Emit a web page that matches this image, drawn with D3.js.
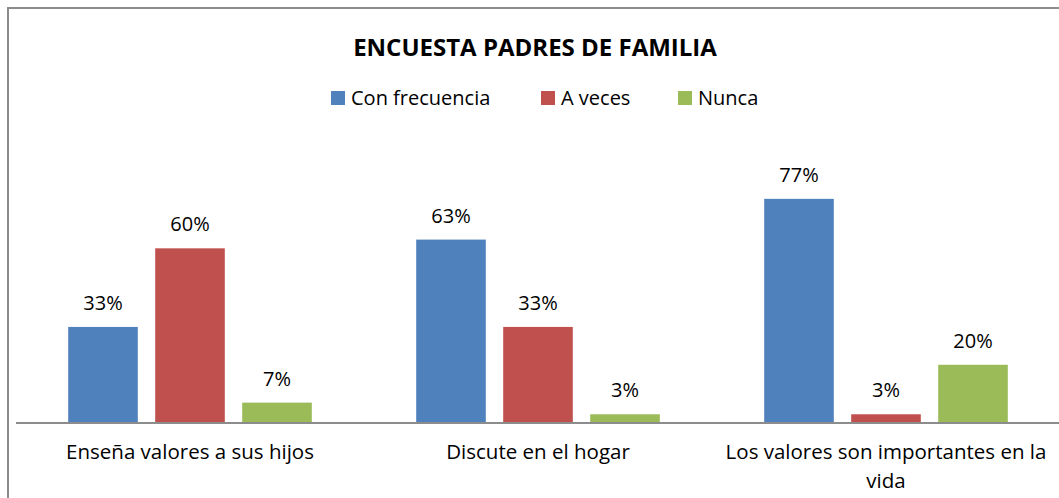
<!DOCTYPE html>
<html>
<head>
<meta charset="utf-8">
<script src="https://cdn.jsdelivr.net/npm/d3@7"></script>
<style>
  body { margin: 0; background: #fff; }
  svg text { font-family: "Open Sans", "Liberation Sans", sans-serif; fill: #000; }
</style>
</head>
<body>
<div id="chart"></div>
<script>
var categories = ["Enseña valores a sus hijos", "Discute en el hogar", "Los valores son importantes en la vida"];
var series = ["Con frecuencia", "A veces", "Nunca"];
var colors = ["#4F81BD", "#C0504D", "#9BBB59"];
// one array per series, same order as categories
var conFrecuencia = [0.33, 0.63, 0.77];
var aVeces = [0.60, 0.33, 0.03];
var nunca = [0.07, 0.03, 0.20];
var title = "ENCUESTA PADRES DE FAMILIA";

var width = 1059, height = 498;
var values = [conFrecuencia, aVeces, nunca];

var svg = d3.select("#chart").append("svg")
  .attr("width", width)
  .attr("height", height);

// chart frame (right/bottom edges fall outside the picture)
svg.append("rect")
  .attr("x", 8).attr("y", 8)
  .attr("width", 1100).attr("height", 600)
  .attr("fill", "none")
  .attr("stroke", "#8c8c8c")
  .attr("stroke-width", 2);

var x0 = d3.scaleBand()
  .domain(categories)
  .range([16, 1060]);

var x1 = d3.scaleBand()
  .domain(series)
  .range([0, x0.bandwidth()])
  .paddingInner(0.2)
  .paddingOuter(0.6);

var y = d3.scaleLinear()
  .domain([0, 0.9])
  .range([423, 161]);

var rows = [];
categories.forEach(function(c, i) {
  series.forEach(function(s, j) {
    rows.push({cat: c, ser: s, idx: j, value: values[j][i]});
  });
});

svg.append("g")
  .selectAll("rect")
  .data(rows)
  .enter()
  .append("rect")
  .attr("x", function(d) { return x0(d.cat) + x1(d.ser); })
  .attr("y", function(d) { return y(d.value); })
  .attr("width", x1.bandwidth())
  .attr("height", function(d) { return y(0) - y(d.value); })
  .attr("fill", function(d) { return colors[d.idx]; });

svg.append("g")
  .selectAll("text")
  .data(rows)
  .enter()
  .append("text")
  .attr("x", function(d) { return x0(d.cat) + x1(d.ser) + x1.bandwidth() / 2; })
  .attr("y", function(d) { return y(d.value) - 17; })
  .attr("text-anchor", "middle")
  .style("font-size", "20px")
  .text(function(d) { return d3.format(".0%")(d.value); });

// category axis
var xAxis = d3.axisBottom(x0).tickSize(0).tickPadding(0);
var gx = svg.append("g")
  .attr("transform", "translate(0," + y(0) + ")")
  .call(xAxis);
gx.select(".domain").attr("stroke", "#8c8c8c").attr("stroke-width", 2).attr("d", "M16,0H1060");
gx.selectAll(".tick text")
  .attr("font-size", null)
  .attr("font-family", null)
  .style("font-size", "20.5px")
  .attr("y", 36)
  .attr("dy", 0)
  .call(wrap, 340);

function wrap(text, w) {
  text.each(function() {
    var t = d3.select(this),
      words = t.text().split(/\s+/),
      line = [],
      lineNo = 0,
      tspan = t.text(null).append("tspan").attr("x", 0).attr("y", 36);
    words.forEach(function(word) {
      line.push(word);
      tspan.text(line.join(" "));
      if (tspan.node().getComputedTextLength() > w && line.length > 1) {
        line.pop();
        tspan.text(line.join(" "));
        line = [word];
        lineNo++;
        tspan = t.append("tspan").attr("x", 0).attr("y", 36 + lineNo * 29).text(word);
      }
    });
  });
}

// title
svg.append("text")
  .attr("x", 535)
  .attr("y", 56)
  .attr("text-anchor", "middle")
  .style("font-size", "24px")
  .style("font-weight", "bold")
  .text(title);

// legend
var legendX = [331, 541, 678];
var legend = svg.append("g")
  .selectAll("g")
  .data(series)
  .enter()
  .append("g")
  .attr("transform", function(d, i) { return "translate(" + legendX[i] + ",91)"; });
legend.append("rect")
  .attr("width", 14).attr("height", 14)
  .attr("fill", function(d, i) { return colors[i]; });
legend.append("text")
  .attr("x", 20)
  .attr("y", 14)
  .style("font-size", "20px")
  .text(function(d) { return d; });
</script>
</body>
</html>
